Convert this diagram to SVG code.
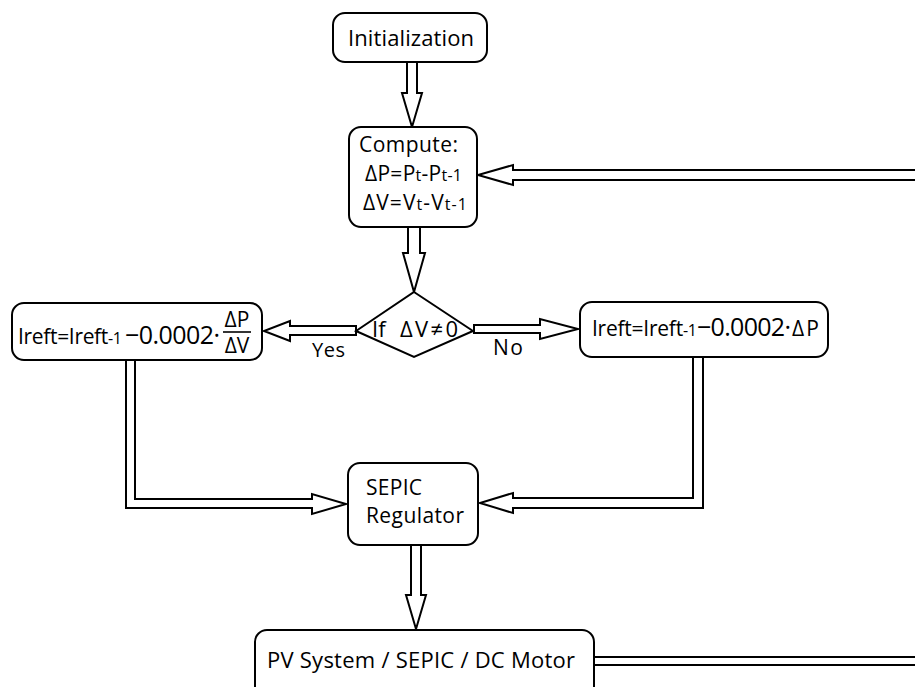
<svg xmlns="http://www.w3.org/2000/svg" width="915" height="687" viewBox="0 0 915 687">
<style>
.box{fill:#fff;stroke:#000;stroke-width:2}
.arr{fill:#fff;stroke:#000;stroke-width:2;stroke-linejoin:miter}
text{font-family:"Open Sans","Liberation Sans",sans-serif;fill:#000}
.t{font-size:22px}
.s{font-size:16px}
</style>
<rect width="915" height="687" fill="#fff"/>
<g id="connectors">
<polygon id="c-init-compute" class="arr" points="407,62 417,62 417,93 422,93 412,127 402,93 407,93"/>
<polygon id="c-compute-diamond" class="arr" points="408,227 420,227 420,253 425,253 414,292 403,253 408,253"/>
<polygon id="c-yes" class="arr" points="356,326 356,335 290,335 290,341 264,331 290,321 290,326"/>
<polygon id="c-no" class="arr" points="474,325 540,325 540,319 578,329 540,339 540,333 474,333"/>
<polygon id="c-left-sepic" class="arr" points="126,360 135,360 135,499 312,499 312,494 346,504 312,514 312,508 126,508"/>
<polygon id="c-right-sepic" class="arr" points="693,357 703,357 703,508 513,508 513,513 480,503 513,493 513,498 693,498"/>
<polygon id="c-sepic-pv" class="arr" points="411,545 421,545 421,595 426,595 416,629 406,595 411,595"/>
<polygon id="c-feedback" class="arr" points="922,170 513,170 513,165 478,175 513,185 513,180 922,180"/>
<polygon id="c-pv-out" class="arr" points="594,657 922,657 922,665 594,665"/>
</g>
<g id="init">
<rect class="box" x="333" y="13" width="154" height="49" rx="12"/>
<text class="t" x="348" y="46" textLength="126">Initialization</text>
</g>
<g id="compute">
<rect class="box" x="349" y="127" width="128" height="100" rx="12"/>
<text x="359" y="152" font-size="21" textLength="99">Compute:</text>
<text x="365" y="181" font-size="21" textLength="97">ΔP=P<tspan class="s">t</tspan>-P<tspan class="s">t-1</tspan></text>
<text x="363" y="210" font-size="21" textLength="104">ΔV=V<tspan class="s">t</tspan>-V<tspan class="s">t-1</tspan></text>
</g>
<g id="decision">
<polygon class="box" points="414,292 473,331 414,357 356,331"/>
<text x="372" y="337" font-size="22">If</text>
<text x="400" y="337" font-size="22" textLength="58">ΔV≠0</text>
</g>
<g id="left-update">
<rect class="box" x="12" y="303" width="250" height="57" rx="12"/>
<text x="18" y="344" font-size="21" textLength="104">Ireft=Ireft<tspan font-size="16">-1</tspan></text>
<text x="125" y="344" font-size="25" textLength="95">−0.0002·</text>
<text x="237" y="327" font-size="21" text-anchor="middle">ΔP</text>
<line x1="223" y1="332" x2="251" y2="332" stroke="#000" stroke-width="1.6"/>
<text x="237" y="353" font-size="21" text-anchor="middle">ΔV</text>
<text x="312" y="357" font-size="20" textLength="33">Yes</text>
</g>
<g id="right-update">
<rect class="box" x="580" y="302" width="248" height="55" rx="12"/>
<text x="592" y="336" font-size="21" textLength="105">Ireft=Ireft<tspan font-size="16">-1</tspan></text>
<text x="697" y="336" font-size="25" textLength="94">−0.0002·</text>
<text x="792" y="336" font-size="21" textLength="27">ΔP</text>
<text x="493" y="355" font-size="21" textLength="30">No</text>
</g>
<g id="sepic">
<rect class="box" x="348" y="463" width="130" height="82" rx="12"/>
<text x="366" y="495" font-size="21" textLength="56">SEPIC</text>
<text x="366" y="523" font-size="21" textLength="98">Regulator</text>
</g>
<g id="pv">
<rect class="box" x="255" y="630" width="339" height="72" rx="12"/>
<text x="267" y="668" font-size="22" textLength="308">PV System / SEPIC / DC Motor</text>
</g>
</svg>
